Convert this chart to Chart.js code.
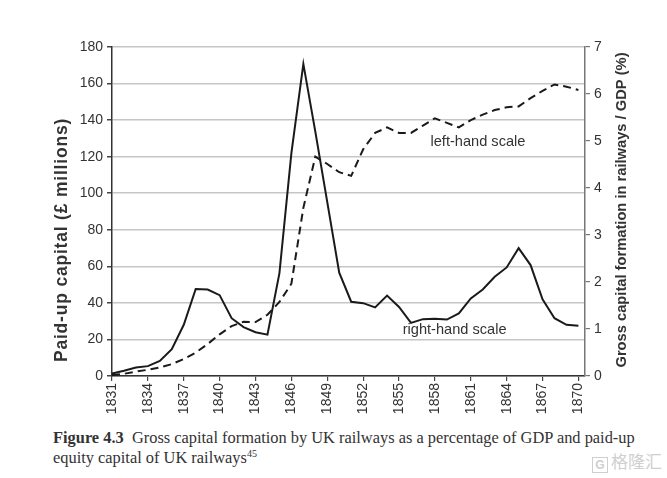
<!DOCTYPE html>
<html>
<head>
<meta charset="utf-8">
<script src="https://cdn.jsdelivr.net/npm/chart.js@4.4.0/dist/chart.umd.min.js"></script>
<style>
  html, body { margin: 0; padding: 0; background: #fff; }
  #wrap { position: absolute; left: 0; top: 0; width: 667px; height: 420px; }
  #caption {
    position: absolute; left: 53px; top: 428px; width: 614px;
    font-family: "Liberation Serif", "DejaVu Serif", serif;
    font-size: 16.4px; line-height: 20px; color: #333; white-space: nowrap;
  }
  #caption b { font-weight: bold; }
  #caption sup { font-size: 10px; line-height: 0; }
  #mark {
    position: absolute; left: 592px; top: 452px;
    font-family: "Noto Sans CJK SC", sans-serif; font-size: 17px; line-height: 18px; color: #cfcfcf;
  }
  #mark span.g {
    display: inline-block; border: 1.5px solid #cfcfcf; width: 14px; height: 14px;
    line-height: 14px; text-align: center; font-family: "Liberation Sans", sans-serif;
    font-size: 12px; font-weight: bold; margin-right: 3px; vertical-align: -1px;
  }
</style>
</head>
<body>
<div id="wrap"><canvas id="railChart" width="667" height="420"></canvas></div>
<div id="caption"><b>Figure 4.3</b>&nbsp; Gross capital formation by UK railways as a percentage of GDP and paid-up<br>equity capital of UK railways<sup>45</sup></div>
<div id="mark"><span class="g">G</span>格隆汇</div>
<script>
// years 1831..1870
const years = [1831, 1832, 1833, 1834, 1835, 1836, 1837, 1838, 1839, 1840,
  1841, 1842, 1843, 1844, 1845, 1846, 1847, 1848, 1849, 1850,
  1851, 1852, 1853, 1854, 1855, 1856, 1857, 1858, 1859, 1860,
  1861, 1862, 1863, 1864, 1865, 1866, 1867, 1868, 1869, 1870]

// paid-up capital, £ millions (left-hand scale, dashed)
const paidUpCapital = [0.5, 1.2, 2.4, 3.4, 4.7, 6.5, 9.3, 12.8, 17.5, 22.8,
  27.3, 29.7, 29.5, 33.5, 40.5, 50.5, 92, 120, 116, 111.5,
  109.5, 124, 133, 136, 133, 133, 137, 141, 138.5, 136,
  140, 143, 145.5, 147, 147.5, 152, 156, 159.5, 158.3, 156.5]

// gross capital formation in railways / GDP, % (right-hand scale, solid)
const gcfShare = [0.05, 0.11, 0.18, 0.21, 0.32, 0.57, 1.09, 1.85, 1.84, 1.72,
  1.23, 1.04, 0.93, 0.88, 2.19, 4.74, 6.64, 5.2, 3.7, 2.2,
  1.58, 1.55, 1.46, 1.71, 1.47, 1.13, 1.21, 1.22, 1.2, 1.33,
  1.65, 1.84, 2.11, 2.31, 2.72, 2.36, 1.63, 1.23, 1.09, 1.07]

const yearTicks = [1831, 1834, 1837, 1840, 1843, 1846, 1849, 1852, 1855, 1858, 1861, 1864, 1867, 1870]

const leftTitle = 'Paid-up capital (£ millions)'
const rightTitle = 'Gross capital formation in railways / GDP (%)'

const tickFont = { family: 'Liberation Sans, Arial, sans-serif', size: 14 }
const ink = '#333'

// axis titles (both read bottom-to-top) and the two line labels
const labelsPlugin = {
  id: 'labels',
  afterDraw (chart) {
    const ctx = chart.ctx
    const { x, yL, yR } = chart.scales
    ctx.save()
    ctx.fillStyle = ink
    ctx.textAlign = 'center'
    ctx.textBaseline = 'middle'
    ctx.save()
    ctx.font = 'bold 17.5px Liberation Sans, Arial, sans-serif'
    ctx.letterSpacing = '0.8px'
    ctx.translate(62, 240)
    ctx.rotate(-Math.PI / 2)
    ctx.fillText(leftTitle, 0, 0)
    ctx.restore()
    ctx.save()
    ctx.font = 'bold 14.7px Liberation Sans, Arial, sans-serif'
    ctx.translate(622, 210)
    ctx.rotate(-Math.PI / 2)
    ctx.fillText(rightTitle, 0, 0)
    ctx.restore()
    ctx.font = '14.6px Liberation Sans, Arial, sans-serif'
    ctx.fillText('left-hand scale', x.getPixelForValue(1861.6), yL.getPixelForValue(128))
    ctx.fillText('right-hand scale', x.getPixelForValue(1859.65), yR.getPixelForValue(0.98))
    ctx.restore()
  }
}

new Chart(document.getElementById('railChart'), {
  type: 'line',
  data: {
    datasets: [{
      label: 'Paid-up capital',
      data: years.map((y, i) => ({ x: y, y: paidUpCapital[i] })),
      yAxisID: 'yL',
      borderColor: '#1a1a1a',
      borderWidth: 2,
      borderDash: [8, 5],
      pointRadius: 0,
      tension: 0
    }, {
      label: 'GCF / GDP',
      data: years.map((y, i) => ({ x: y, y: gcfShare[i] })),
      yAxisID: 'yR',
      borderColor: '#1a1a1a',
      borderWidth: 2,
      pointRadius: 0,
      tension: 0
    }]
  },
  options: {
    responsive: false,
    animation: false,
    layout: { padding: { top: 47, left: 0, right: 0, bottom: 0 } },
    plugins: { legend: { display: false }, tooltip: { enabled: false } },
    scales: {
      x: {
        type: 'linear',
        min: 1831,
        max: 1870.55,
        afterBuildTicks: (axis) => { axis.ticks = yearTicks.map(v => ({ value: v })) },
        afterFit: (scale) => { scale.height = 44 },
        grid: { drawOnChartArea: false, tickLength: 5, tickColor: '#444', lineWidth: 1.2 },
        border: { color: '#333', width: 1.5 },
        ticks: {
          font: tickFont, color: ink, padding: 2,
          minRotation: 90, maxRotation: 90, autoSkip: false,
          callback: (v) => String(v)
        }
      },
      yL: {
        position: 'left',
        min: 0,
        max: 180,
        afterFit: (scale) => { scale.width = 112 },
        grid: { color: '#c6c6c6', lineWidth: 1.5, tickLength: 5, tickColor: '#444' },
        border: { color: '#333', width: 1.5 },
        ticks: { stepSize: 20, font: tickFont, color: ink, padding: 4 }
      },
      yR: {
        position: 'right',
        min: 0,
        max: 7,
        afterFit: (scale) => { scale.width = 82 },
        grid: { drawOnChartArea: false, tickLength: 5, tickColor: '#777', lineWidth: 1.2 },
        border: { color: '#777', width: 1.5 },
        ticks: { stepSize: 1, font: tickFont, color: ink, padding: 4 }
      }
    }
  },
  plugins: [labelsPlugin]
})
</script>
</body>
</html>
